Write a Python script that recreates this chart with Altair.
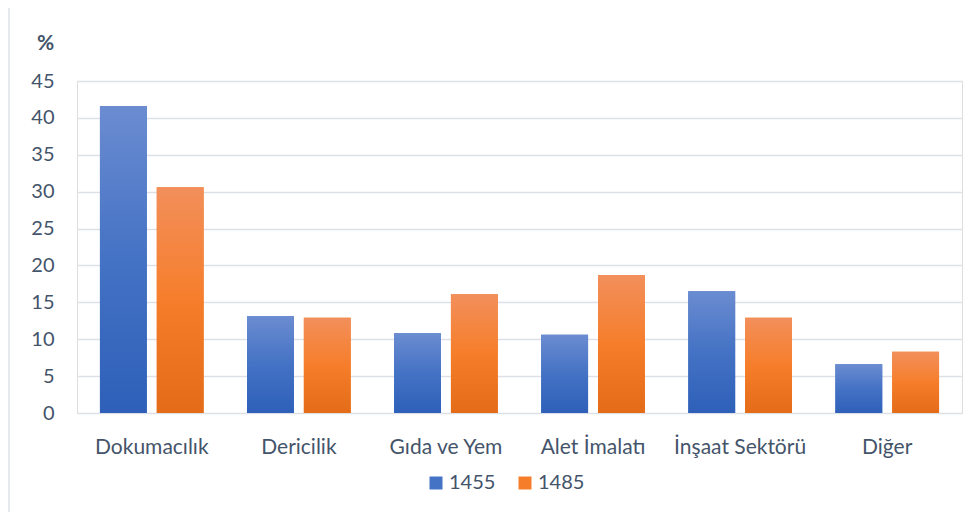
import altair as alt
import pandas as pd

categories = ["Dokumacılık", "Dericilik", "Gıda ve Yem", "Alet İmalatı", "İnşaat Sektörü", "Diğer"]
years = ["1455", "1485"]
values_1455 = [41.6, 13.1, 10.8, 10.6, 16.5, 6.6]
values_1485 = [30.6, 12.9, 16.1, 18.7, 12.9, 8.3]
y_ticks = [0, 5, 10, 15, 20, 25, 30, 35, 40, 45]

rows = []
for c, v in zip(categories, values_1455):
    rows.append({"kategori": c, "yil": "1455", "deger": v})
for c, v in zip(categories, values_1485):
    rows.append({"kategori": c, "yil": "1485", "deger": v})
df = pd.DataFrame(rows)

TEXT = "#44546A"
FONT = "Lato"
W, H = 885, 332

grad_blue = alt.Gradient(
    gradient="linear", x1=0, x2=0, y1=0, y2=1,
    stops=[alt.GradientStop(color="#6B8CD1", offset=0),
           alt.GradientStop(color="#4472C4", offset=0.5),
           alt.GradientStop(color="#2E60B9", offset=1)],
)
grad_orange = alt.Gradient(
    gradient="linear", x1=0, x2=0, y1=0, y2=1,
    stops=[alt.GradientStop(color="#F28F5B", offset=0),
           alt.GradientStop(color="#F67E2B", offset=0.5),
           alt.GradientStop(color="#E46B17", offset=1)],
)

x_enc = alt.X("kategori:N", sort=categories,
              scale=alt.Scale(paddingInner=0.295, paddingOuter=0.156),
              axis=alt.Axis(title=None, labelAngle=0, domain=False, ticks=False,
                            labelPadding=23, labelFontSize=21, labelColor=TEXT,
                            labelFont=FONT))
xo_enc = alt.XOffset("yil:N", sort=years, scale=alt.Scale(paddingInner=0.175, paddingOuter=0))
y_enc = alt.Y("deger:Q", scale=alt.Scale(domain=[0, 45], nice=False),
              axis=alt.Axis(values=y_ticks, title="%", titleAngle=0, titleFontSize=21,
                            titleFont=FONT, titleFontWeight="bold", titleColor=TEXT,
                            titleX=-32, titleY=-38, titleAlign="center", titleBaseline="middle",
                            labelFontSize=20, labelFont=FONT, labelColor=TEXT, labelPadding=23,
                            ticks=False, domain=False, gridColor="#DDE1E7", gridWidth=1.3))

base = alt.Chart(df).encode(x=x_enc, xOffset=xo_enc, y=y_enc)

legend_layer = base.mark_bar().encode(
    color=alt.Color("yil:N", sort=years,
                    scale=alt.Scale(domain=years, range=["#4472C4", "#F67E2B"]),
                    legend=alt.Legend(title=None, orient="none", direction="horizontal",
                                      legendX=349, legendY=392,
                                      symbolType="square", symbolSize=169, symbolStrokeWidth=0,
                                      labelFontSize=20, labelFont=FONT, labelColor=TEXT,
                                      columnPadding=19, labelOffset=3))
)
blue_layer = base.mark_bar(color=grad_blue).transform_filter(alt.datum.yil == "1455")
orange_layer = base.mark_bar(color=grad_orange).transform_filter(alt.datum.yil == "1485")

frame = pd.DataFrame({"k": [0]})
top_border = alt.Chart(frame).mark_rule(color="#DEE2E8", strokeWidth=1.5).encode(
    x=alt.value(-68), x2=alt.value(W + 40), y=alt.value(-76))
left_border = alt.Chart(frame).mark_rule(color="#DEE2E8", strokeWidth=1.5).encode(
    x=alt.value(-68), y=alt.value(-76), y2=alt.value(H + 120))

chart = alt.layer(top_border, left_border, legend_layer, blue_layer, orange_layer).properties(
    width=W, height=H,
    autosize=alt.AutoSizeParams(type="none"),
    padding={"left": 69, "top": 73, "right": 10, "bottom": 99},
).configure_view(stroke=None).configure(background="white")

chart.save("out.html", embed_options={"renderer": "svg", "actions": False})
